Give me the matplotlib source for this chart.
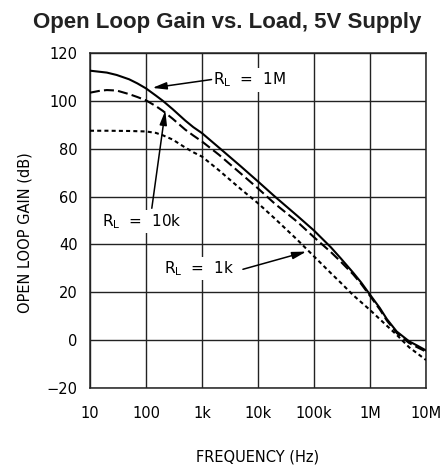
import numpy as np
import matplotlib
matplotlib.use("Agg")
import matplotlib.pyplot as plt

plt.rcParams['lines.scale_dashes'] = False

# curves (frequency in Hz, gain in dB)
freq_1m = [10, 20, 30, 50, 70, 100, 150, 200, 300, 500, 700, 1e3, 2e3, 5e3, 1e4, 2e4, 5e4,
           1e5, 2e5, 3e5, 5e5, 7e5, 1e6, 1.5e6, 2e6, 3e6, 5e6, 7e6, 1e7]
gain_1m = [112.6, 111.8, 110.8, 109.0, 107.3, 105.2, 102.2, 100.0, 96.5, 91.8, 89.0, 86.5, 80.5,
           72.5, 66.3, 60.0, 52.0, 45.8, 38.8, 34.2, 28.2, 24.0, 19.0, 13.4, 8.8, 3.6, -0.5, -2.3, -4.3]

freq_10k = [10, 15, 20, 30, 50, 70, 100, 150, 200, 300, 500, 700, 1e3, 2e3, 5e3, 1e4, 2e4, 5e4,
            1e5, 2e5, 3e5, 5e5, 7e5, 1e6, 1.5e6, 2e6, 3e6, 5e6, 7e6, 1e7]
gain_10k = [103.4, 104.2, 104.5, 104.3, 102.8, 101.6, 100.2, 97.8, 95.8, 92.5, 88.0, 85.5, 83.0,
            77.5, 69.5, 63.4, 57.0, 49.5, 43.0, 36.8, 32.8, 27.5, 23.4, 18.5, 12.8, 8.2, 3.0,
            -1.2, -3.0, -4.8]

freq_1k = [10, 20, 50, 100, 150, 200, 300, 500, 700, 1e3, 2e3, 5e3, 1e4, 2e4, 5e4, 1e5, 2e5,
           3e5, 5e5, 1e6, 2e6, 3e6, 5e6, 1e7]
gain_1k = [87.5, 87.5, 87.4, 87.2, 86.6, 85.6, 83.8, 80.5, 78.5, 76.7, 71.0, 63.0, 57.2, 50.8,
           42.0, 35.0, 28.0, 24.0, 18.8, 12.6, 6.0, 2.2, -3.0, -8.3]

xticks = [10, 100, 1e3, 1e4, 1e5, 1e6, 1e7]
xtick_labels = ['10', '100', '1k', '10k', '100k', '1M', '10M']
yticks = [-20, 0, 20, 40, 60, 80, 100, 120]

fig = plt.figure(figsize=(4.45, 4.70), dpi=100)
ax = fig.add_axes([0.2022, 0.1745, 0.7551, 0.7128])

ax.plot(freq_1m, gain_1m, color='black', lw=1.5, solid_joinstyle='round', zorder=3)
ax.plot(freq_10k, gain_10k, color='black', lw=1.5, dashes=(7.2, 3.0), zorder=3)
ax.plot(freq_1k, gain_1k, color='black', lw=1.5, dashes=(2.9, 2.3), zorder=3)

ax.set_xscale('log')
ax.set_xlim(10, 1e7)
ax.set_ylim(-20, 120)
ax.set_xticks(xticks)
ax.set_xticklabels(xtick_labels)
ax.set_yticks(yticks)
ax.minorticks_off()
ax.tick_params(length=0, labelsize=10.5)
ax.tick_params(axis='x', pad=13)
ax.tick_params(axis='y', pad=9)
ax.grid(True, color='#222222', lw=1.0, zorder=1)
for s in ax.spines.values():
    s.set_linewidth(1.1)
    s.set_color('#222222')

ax.set_xlabel('FREQUENCY (Hz)', fontsize=10.5)
ax.xaxis.set_label_coords(0.5, -0.183)
ax.set_ylabel('OPEN LOOP GAIN (dB)', fontsize=10.5)
ax.yaxis.set_label_coords(-0.172, 0.463)

fig.text(0.51, 0.953, 'Open Loop Gain vs. Load, 5V Supply', ha='center', va='center',
         fontsize=16, fontweight='bold', family='Liberation Sans', color='#222222')

# labels with arrows
box = dict(boxstyle='square,pad=0.15', fc='white', ec='none')
arr = dict(arrowstyle='-|>,head_length=0.7,head_width=0.18', color='black', lw=1.1,
           shrinkA=0, shrinkB=0, mutation_scale=12)
ax.text(1567, 108.7, r'R$_\mathregular{L}$  =  1M', fontsize=11, va='center', ha='left',
        bbox=box, zorder=4)
ax.annotate('', xy=(130, 105.4), xytext=(1480, 108.9), arrowprops=arr, zorder=4)

ax.text(16.1, 49.5, r'R$_\mathregular{L}$  =  10k', fontsize=11, va='center', ha='left',
        bbox=box, zorder=4)
ax.annotate('', xy=(221, 95.9), xytext=(127, 55.1), arrowprops=arr, zorder=4)

ax.text(212, 30, r'R$_\mathregular{L}$  =  1k', fontsize=11, va='center', ha='left',
        bbox=box, zorder=4)
ax.annotate('', xy=(73000, 37.0), xytext=(5380, 29.6), arrowprops=arr, zorder=4)

fig.savefig('out.png', dpi=100)
